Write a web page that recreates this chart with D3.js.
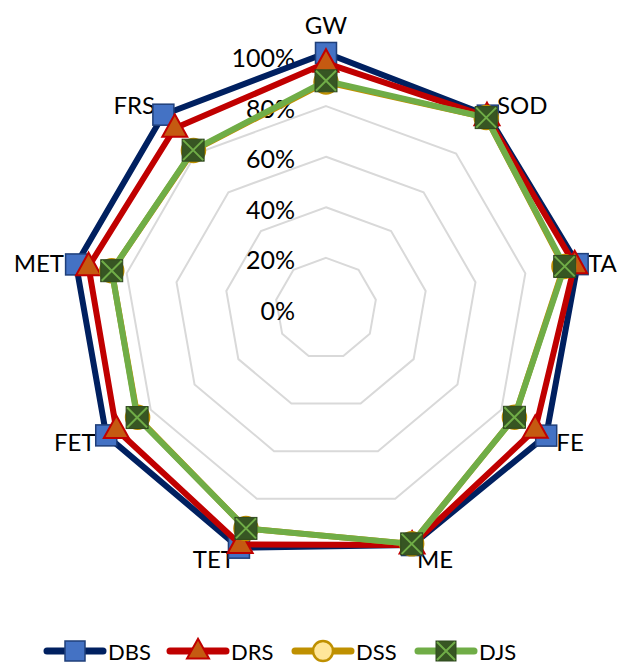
<!DOCTYPE html>
<html>
<head>
<meta charset="utf-8">
<script src="https://cdn.jsdelivr.net/npm/d3@7"></script>
<style>
  html, body { margin: 0; padding: 0; background: #fff; }
  svg { display: block; }
  text { font-family: Lato, "Open Sans", sans-serif; fill: #000; }
</style>
</head>
<body>
<svg id="chart" width="617" height="663"></svg>
<script>
// Axes of the radar, clockwise from the top
const categories = ["GW", "SOD", "TA", "FE", "ME", "TET", "FET", "MET", "FRS"];

// Series values (%)
const DBS = [101, 99.5, 101, 100.5, 99.5, 100.6, 100.3, 100.3, 100];
const DRS = [97, 99, 99.8, 95.5, 99.5, 99.2, 95.7, 95.3, 93];
const DSS = [89.5, 98.5, 95.5, 86, 99, 92.5, 86, 86, 81.5];
const DJS = [90, 98.5, 95.8, 86, 99, 92.5, 86.2, 86, 81.7];

const seriesNames = ["DBS", "DRS", "DSS", "DJS"];
const seriesValues = [DBS, DRS, DSS, DJS];

// Radial tick labels
const tickValues = [0, 20, 40, 60, 80, 100];
const tickLabels = ["0%", "20%", "40%", "60%", "80%", "100%"];

const styles = {
  DBS: { line: "#002060", marker: "square", fill: "#4472C4", stroke: "#1F3F7A" },
  DRS: { line: "#C00000", marker: "triangle", fill: "#C55A11", stroke: "#C00000" },
  DSS: { line: "#BF9000", marker: "circle", fill: "#FFE699", stroke: "#BF9000" },
  DJS: { line: "#70AD47", marker: "xsquare", fill: "#375623", stroke: "#70AD47" }
};

const svg = d3.select("#chart");
const cx = 326, cy = 308.5, R = 253;

const r = d3.scaleLinear().domain([0, 100]).range([0, R]);
const angle = d3.scalePoint().domain(categories).range([0, 2 * Math.PI * (categories.length - 1) / categories.length]);

const g = svg.append("g").attr("transform", `translate(${cx},${cy})`);

// Polygon grid rings
const ring = d3.lineRadial()
  .angle(d => angle(d))
  .curve(d3.curveLinearClosed);

g.append("g").selectAll("path")
  .data(tickValues.filter(v => v > 0))
  .join("path")
  .attr("d", v => ring.radius(() => r(v))(categories))
  .attr("fill", "none")
  .attr("stroke", "#D9D9D9")
  .attr("stroke-width", 2);

// Radial tick labels
g.append("g").selectAll("text")
  .data(tickValues)
  .join("text")
  .attr("x", -31)
  .attr("y", v => -r(v) + 1.5)
  .attr("text-anchor", "end")
  .attr("dominant-baseline", "central")
  .attr("font-size", 25)
  .text((v, i) => tickLabels[i]);

// Category labels
g.append("g").selectAll("text")
  .data(categories)
  .join("text")
  .each(function (c) {
    const a = angle(c);
    const rr = R + 13;
    const x = Math.sin(a) * rr;
    let y = -Math.cos(a) * rr;
    const s = Math.sin(a);
    let anchor = Math.abs(s) < 0.05 ? "middle" : (s > 0 ? "start" : "end");
    if (Math.abs(s) < 0.05) y -= 18;
    d3.select(this)
      .attr("x", x)
      .attr("y", y)
      .attr("text-anchor", anchor)
      .attr("dominant-baseline", "central")
      .attr("font-size", 24)
      .text(c);
  });

function drawMarker(sel, type, st, size) {
  if (type === "square") {
    sel.append("rect")
      .attr("x", -size / 2).attr("y", -size / 2)
      .attr("width", size).attr("height", size)
      .attr("fill", st.fill).attr("stroke", st.stroke).attr("stroke-width", 1.5);
  } else if (type === "triangle") {
    const h = size * 0.9;
    sel.append("path")
      .attr("d", `M0,${-h * 0.62}L${size / 2},${h * 0.38}L${-size / 2},${h * 0.38}Z`)
      .attr("fill", st.fill).attr("stroke", st.stroke).attr("stroke-width", 2).attr("stroke-linejoin", "miter");
  } else if (type === "circle") {
    sel.append("circle")
      .attr("r", size / 2)
      .attr("fill", st.fill).attr("stroke", st.stroke).attr("stroke-width", 2.5);
  } else if (type === "xsquare") {
    const h = size / 2;
    sel.append("rect")
      .attr("x", -h).attr("y", -h)
      .attr("width", size).attr("height", size)
      .attr("fill", st.fill).attr("stroke", "#2F4A1E").attr("stroke-width", 1);
    sel.append("path")
      .attr("d", `M${-h + 1},${-h + 1}L${h - 1},${h - 1}M${h - 1},${-h + 1}L${-h + 1},${h - 1}`)
      .attr("stroke", st.stroke).attr("stroke-width", 2);
  }
}

const markerSize = { DBS: 21, DRS: 25, DSS: 23, DJS: 22 };

// Series lines and markers
seriesNames.forEach((name, si) => {
  const vals = seriesValues[si];
  const st = styles[name];
  const pts = categories.map((c, i) => ({ c, v: vals[i] }));
  const line = d3.lineRadial()
    .angle(d => angle(d.c))
    .radius(d => r(d.v))
    .curve(d3.curveLinearClosed);
  const sg = g.append("g");
  sg.append("path")
    .attr("d", line(pts))
    .attr("fill", "none")
    .attr("stroke", st.line)
    .attr("stroke-width", 6)
    .attr("stroke-linejoin", "round");
  pts.forEach(p => {
    const a = angle(p.c);
    const m = sg.append("g")
      .attr("transform", `translate(${Math.sin(a) * r(p.v)},${-Math.cos(a) * r(p.v)})`);
    drawMarker(m, st.marker, st, markerSize[name]);
  });
});

// Legend
const legendX = [47, 170, 295, 418];
const lg = svg.append("g").attr("transform", "translate(0,651)");
seriesNames.forEach((name, i) => {
  const st = styles[name];
  const item = lg.append("g").attr("transform", `translate(${legendX[i]},0)`);
  item.append("line")
    .attr("x1", 0).attr("x2", 56)
    .attr("stroke", st.line).attr("stroke-width", 7).attr("stroke-linecap", "round");
  const m = item.append("g").attr("transform", "translate(28,0)");
  drawMarker(m, st.marker, st, name === "DRS" ? 22 : 20);
  item.append("text")
    .attr("x", 61).attr("y", 0)
    .attr("dominant-baseline", "central")
    .attr("font-size", 22)
    .text(name);
});
</script>
</body>
</html>
